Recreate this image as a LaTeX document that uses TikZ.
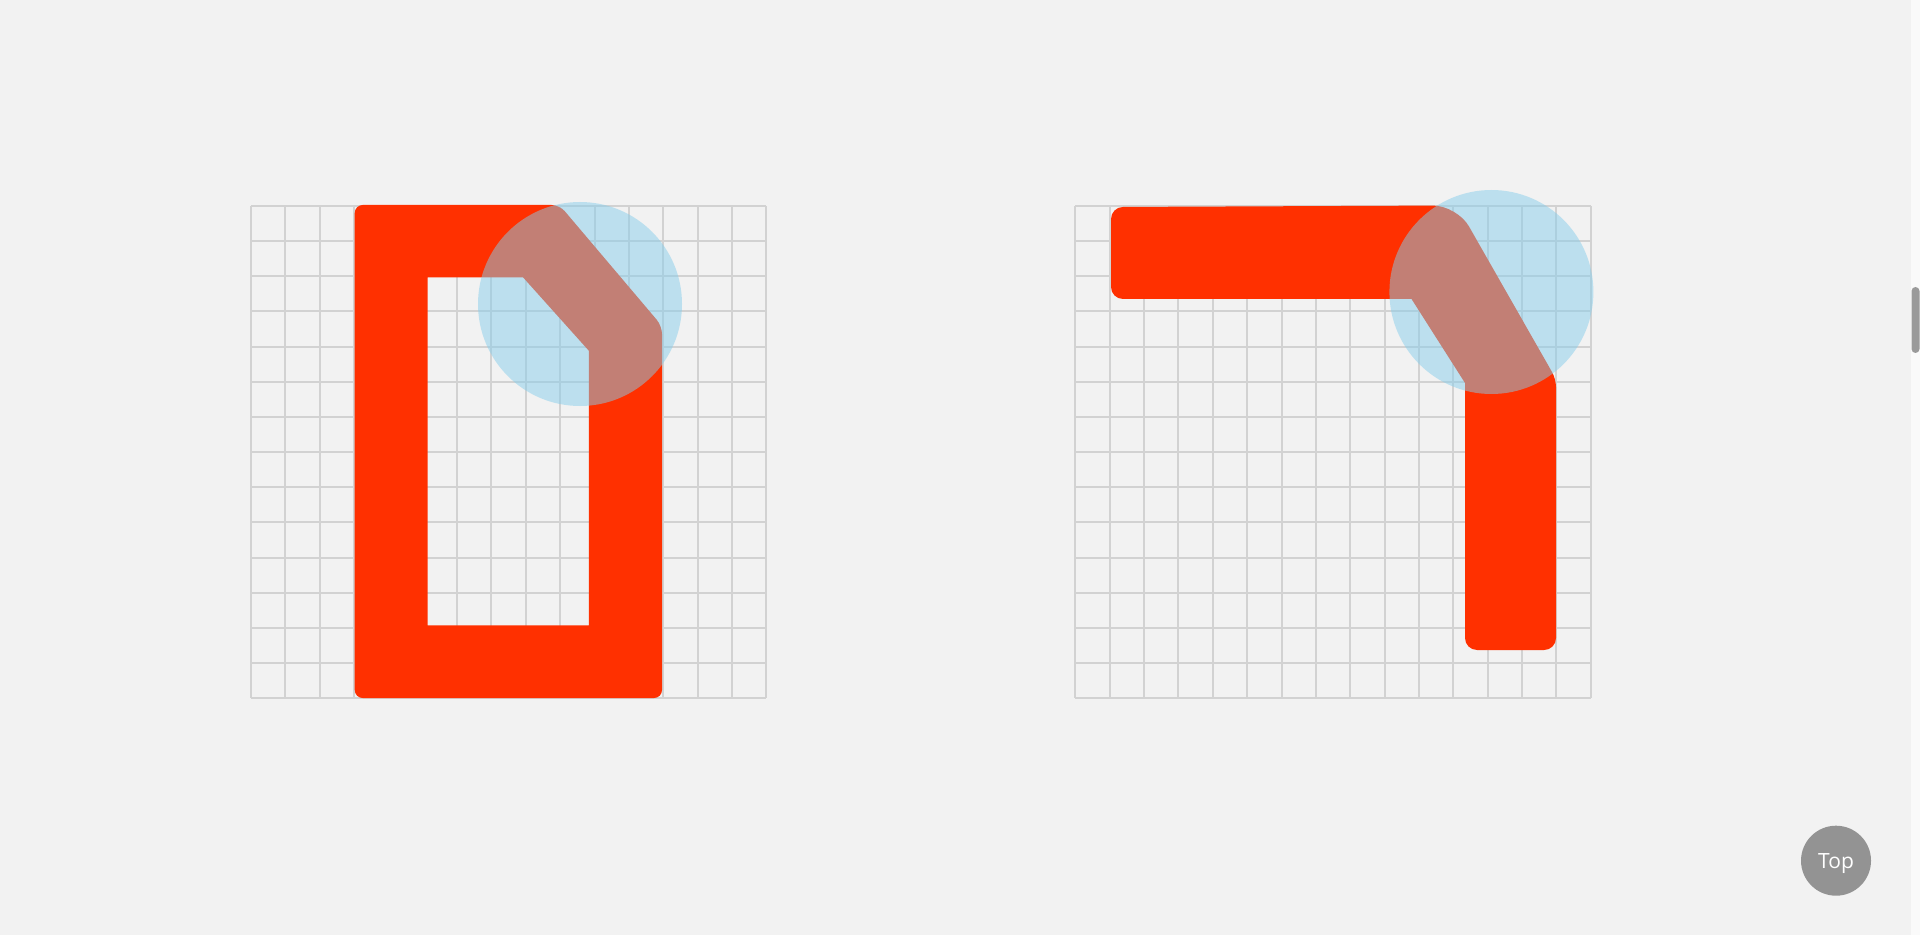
\documentclass[tikz,border=0pt]{standalone}
\usepackage{fontspec}
\setmainfont{Open Sans}

\definecolor{pagebg}{HTML}{F2F2F2}
\definecolor{gridgray}{HTML}{D2D2D2}
\definecolor{barred}{HTML}{FF3000}
\definecolor{lensblue}{HTML}{87CEEB}
\definecolor{btngray}{HTML}{939393}
\definecolor{thumbgray}{HTML}{9A9A9A}

\tikzset{
	gridline/.style={gridgray,line width=1pt},
	redshape/.style={fill=barred},
	lens/.style={circle,fill=lensblue,fill opacity=0.5,minimum size=102pt,inner sep=0pt},
	topbutton/.style={circle,fill=btngray,minimum size=35pt,inner sep=0pt,
		text=white,text depth=0pt,font=\fontsize{10.5}{12}\selectfont},
}

\begin{document}
\begin{tikzpicture}[x=0.5pt,y=-0.5pt]

	\fill[pagebg] (0,0) rectangle (1920,935);
	\useasboundingbox (0,0) rectangle (1920,935);

	% the two grids, 15 x 14 cells
	\foreach \gx in {251,1075.4} {
		\foreach \i in {0,...,15}
			\draw[gridline] ({\gx+34.35*\i},206) -- ({\gx+34.35*\i},698);
		\foreach \j in {0,...,14}
			\draw[gridline] (\gx,{206+35.15*\j}) -- ({\gx+515.25},{206+35.15*\j});
	}

	% left frame
	\fill[redshape,even odd rule,rounded corners=4pt]
		(354.7,205) -- (559.5,205) -- (662,326) -- (662,698) -- (354.7,698) -- cycle
		[sharp corners] (427.7,277.3) -- (523,277.3) -- (588.8,350.7) -- (588.8,625.3) -- (427.7,625.3) -- cycle;

	% right bend
	\fill[redshape] (1465,383) -- (1411.5,299)
		[rounded corners=6pt] -- (1111,299) -- (1111,207)
		[rounded corners=12pt] -- (1457,205.5)
		[rounded corners=4pt] -- (1556,379)
		[rounded corners=6pt] -- (1556,650) -- (1465,650)
		[sharp corners] -- cycle;

	\node[lens] (lensL) at (580,304) {};
	\node[lens] (lensR) at (1491.4,292) {};

	\node[topbutton] (top) at (1836,860.7) {Top};

	% scrollbar
	\fill[white!60!pagebg] (1911,0) rectangle (1920,935);
	\fill[thumbgray,rounded corners=2pt] (1911.5,287) rectangle (1919.5,353);

\end{tikzpicture}
\end{document}
